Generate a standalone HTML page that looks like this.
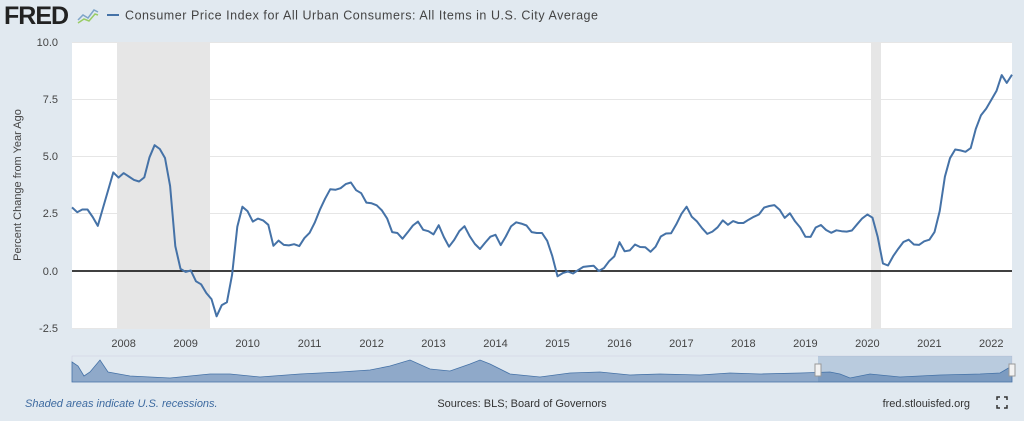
<!DOCTYPE html>
<html><head><meta charset="utf-8"><style>
body{margin:0;width:1024px;height:421px;background:#e1e9f0;font-family:"Liberation Sans",sans-serif;overflow:hidden}
</style></head><body>
<svg width="1024" height="421" xmlns="http://www.w3.org/2000/svg" style="position:absolute;left:0;top:0">
<rect width="1024" height="421" fill="#e1e9f0"/>
<text x="4" y="24" font-size="25" font-weight="bold" fill="#222" font-family="Liberation Sans" letter-spacing="-1">FRED</text>
<polyline points="78,20 83,15 88,18 94,10 98,12" fill="none" stroke="#7fa5c8" stroke-width="1.5"/>
<polyline points="78,23 84,19 89,21 95,14 98,15" fill="none" stroke="#9c6" stroke-width="1.5"/>
<line x1="107" y1="15" x2="119" y2="15" stroke="#4572a7" stroke-width="2"/>
<text x="125" y="19.5" font-size="12.5" fill="#444" textLength="473" lengthAdjust="spacing">Consumer Price Index for All Urban Consumers: All Items in U.S. City Average</text>
<rect x="72" y="42" width="940" height="286" fill="#fff"/>
<rect x="117" y="42" width="93" height="286" fill="#e6e6e6"/>
<rect x="871" y="42" width="10" height="286" fill="#e6e6e6"/>
<g stroke="#e6e6e6" stroke-width="1">
<line x1="72" x2="1012" y1="42.5" y2="42.5"/><line x1="72" x2="1012" y1="99.5" y2="99.5"/>
<line x1="72" x2="1012" y1="156.5" y2="156.5"/><line x1="72" x2="1012" y1="213.5" y2="213.5"/>
<line x1="72" x2="1012" y1="328.5" y2="328.5"/></g>
<line x1="72" x2="1012" y1="271" y2="271" stroke="#000" stroke-width="1.5"/>
<g font-size="11" fill="#444" text-anchor="end">
<text x="58" y="46">10.0</text><text x="58" y="103">7.5</text><text x="58" y="160">5.0</text>
<text x="58" y="217">2.5</text><text x="58" y="275">0.0</text><text x="58" y="332">-2.5</text></g>
<text transform="translate(21,185) rotate(-90)" font-size="11" fill="#444" text-anchor="middle">Percent Change from Year Ago</text>
<g id="xt" font-size="11" fill="#444" text-anchor="middle"></g>
<polyline id="ln" fill="none" stroke="#4572a7" stroke-width="2" stroke-linejoin="round"/>
<rect x="72" y="356" width="940" height="26" fill="#e1e9f0" stroke="#ccd" stroke-width="0.5"/>
<path d="M72,362 L78,366 L84,376 L90,372 L100,360 L108,372 L130,376 L170,378 L210,374 L230,374 L260,377 L300,374 L340,372 L370,370 L390,366 L410,360 L430,369 L450,371 L470,364 L480,360 L490,364 L510,374 L540,377 L570,373 L600,372 L630,375 L660,374 L700,375 L730,373 L760,374 L800,373 L830,372 L840,374 L850,378 L870,374 L900,377 L940,375 L980,374 L1000,373 L1012,366 L1012,382 L72,382 Z" fill="#8fa9c9" stroke="#4572a7" stroke-width="0.8"/>
<rect x="818" y="356" width="194" height="26" fill="#4572a7" fill-opacity="0.25"/>
<rect x="815" y="364" width="6" height="12" fill="#f2f2f2" stroke="#999"/>
<rect x="1009" y="364" width="6" height="12" fill="#f2f2f2" stroke="#999"/>
<text x="25" y="407" font-size="11" font-style="italic" fill="#3d6aa0">Shaded areas indicate U.S. recessions.</text>
<text x="522" y="407" font-size="11" fill="#333" text-anchor="middle">Sources: BLS; Board of Governors</text>
<text x="970" y="407" font-size="11" fill="#333" text-anchor="end">fred.stlouisfed.org</text>
<path d="M997,400v-3h3M1004,397h3v3M1007,405v3h-3M1000,408h-3v-3" fill="none" stroke="#333" stroke-width="1.5"/>
</svg>
<script>
var d=[2.78,2.57,2.69,2.69,2.36,1.97,2.76,3.54,4.31,4.08,
4.28,4.13,3.98,3.91,4.09,4.97,5.50,5.33,4.94,3.72,1.09,0.09,
-0.04,0.02,-0.45,-0.58,-0.96,-1.23,-1.98,-1.49,-1.37,-0.16,1.93,2.81,
2.61,2.16,2.29,2.21,2.02,1.10,1.33,1.14,1.12,1.17,1.09,1.44,
1.67,2.11,2.68,3.16,3.57,3.55,3.62,3.80,3.87,3.53,3.40,2.99,
2.96,2.87,2.65,2.30,1.70,1.66,1.41,1.69,1.99,2.16,1.80,1.74,
1.60,2.00,1.48,1.06,1.36,1.75,1.96,1.52,1.18,0.96,1.24,1.50,
1.58,1.13,1.51,1.95,2.13,2.07,1.99,1.70,1.66,1.66,1.32,0.65,
-0.23,-0.09,-0.02,-0.11,0.04,0.18,0.21,0.23,0.00,0.13,0.43,0.64,
1.26,0.86,0.90,1.16,1.05,1.04,0.84,1.06,1.51,1.64,1.65,2.04,
2.50,2.81,2.37,2.17,1.87,1.62,1.72,1.91,2.21,2.02,2.18,2.10,
2.10,2.24,2.37,2.47,2.77,2.84,2.88,2.68,2.32,2.52,2.17,1.90,
1.50,1.49,1.90,2.01,1.79,1.67,1.78,1.74,1.72,1.77,2.04,2.30,
2.47,2.33,1.49,0.33,0.24,0.65,0.98,1.27,1.37,1.16,1.14,1.30,
1.37,1.70,2.62,4.12,4.93,5.31,5.27,5.21,5.37,6.21,6.81,7.10,
7.48,7.87,8.56,8.22,8.58];
var n=d.length,p=[];
for(var i=0;i<n;i++)p.push((72+i*940/(n-1)).toFixed(1)+","+(271-d[i]*22.88).toFixed(1));
document.getElementById("ln").setAttribute("points",p.join(" "));
var g=document.getElementById("xt"),s="";
for(var y=2008;y<=2022;y++){var x=72+(y-2007.1667)*12*940/(n-1);s+='<text x="'+x.toFixed(1)+'" y="347">'+y+'</text>';}
g.innerHTML=s;
</script>
</body></html>
